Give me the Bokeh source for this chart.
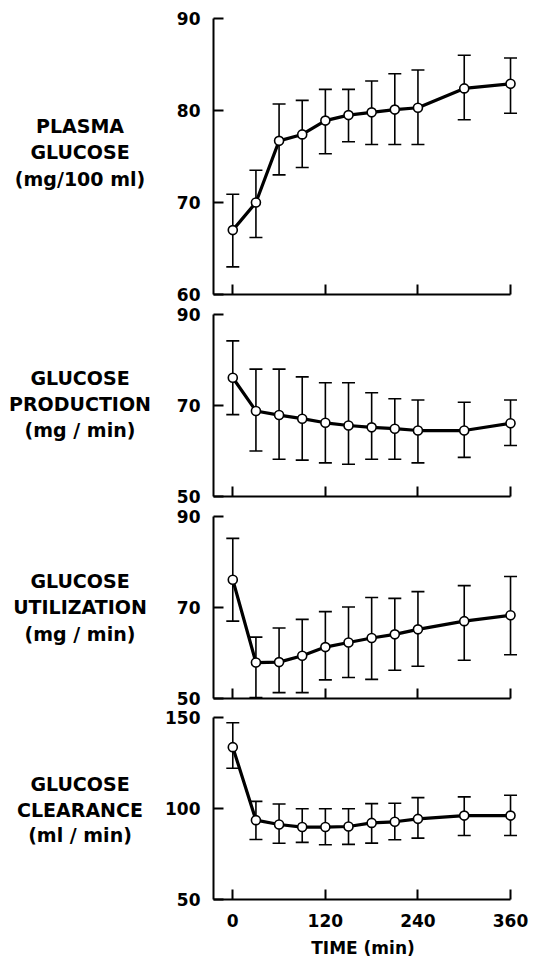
from bokeh.plotting import figure
from bokeh.layouts import column, row
from bokeh.models import Range1d, FixedTicker, Whisker, TeeHead, ColumnDataSource
from bokeh.core.properties import value
from bokeh.embed import file_html
from bokeh.resources import INLINE

# ---------------- data ----------------
times = [0, 30, 60, 90, 120, 150, 180, 210, 240, 300, 360]
x_ticks = [0, 120, 240, 360]

plasma_mean = [67.0, 70.0, 76.7, 77.4, 78.9, 79.5, 79.8, 80.1, 80.3, 82.4, 82.9]
plasma_upper = [70.9, 73.5, 80.7, 81.1, 82.3, 82.3, 83.2, 84.0, 84.4, 86.0, 85.7]
plasma_lower = [63.0, 66.2, 73.0, 73.8, 75.3, 76.6, 76.3, 76.3, 76.3, 79.0, 79.7]

prod_mean = [76.1, 68.8, 67.9, 67.1, 66.2, 65.6, 65.2, 64.9, 64.5, 64.5, 66.1]
prod_upper = [84.2, 78.0, 78.0, 76.3, 75.0, 75.0, 72.8, 71.5, 71.2, 70.7, 71.2]
prod_lower = [68.0, 60.0, 58.2, 58.0, 57.4, 57.1, 58.2, 58.2, 57.4, 58.6, 61.2]

util_mean = [76.1, 57.9, 58.0, 59.4, 61.3, 62.3, 63.3, 64.1, 65.2, 67.0, 68.3]
util_upper = [85.2, 63.5, 65.5, 67.4, 69.1, 70.1, 72.2, 72.0, 73.5, 74.8, 76.8]
util_lower = [67.0, 50.2, 51.3, 51.3, 54.1, 54.6, 54.2, 56.2, 57.1, 58.4, 59.6]

clear_mean = [133.7, 93.6, 91.2, 89.8, 89.8, 90.1, 92.1, 92.7, 94.3, 96.1, 96.1]
clear_upper = [147.1, 103.9, 102.5, 99.9, 99.9, 99.9, 102.7, 102.9, 106.0, 106.4, 107.3]
clear_lower = [122.1, 83.0, 80.9, 81.4, 80.1, 80.3, 81.0, 82.8, 83.7, 85.2, 85.2]

plasma_ticks = [60, 70, 80, 90]
prod_ticks = [50, 70, 90]
util_ticks = [50, 70, 90]
clear_ticks = [50, 100, 150]

plasma_title = ["PLASMA", "GLUCOSE", "(mg/100 ml)"]
prod_title = ["GLUCOSE", "PRODUCTION", "(mg / min)"]
util_title = ["GLUCOSE", "UTILIZATION", "(mg / min)"]
clear_title = ["GLUCOSE", "CLEARANCE", "(ml / min)"]
x_title = "TIME (min)"

# ---------------- layout ----------------
FONT = "DejaVu Sans"
X0, X1 = -25.0, 383.3
FW = 315
LABEL_W = 158
TOTAL_W = 538


def blank_fig(w, h, bt=0, bb=0):
    q = figure(title=None, frame_width=w, frame_height=h,
               min_border=0, min_border_left=0, min_border_right=0,
               min_border_top=bt, min_border_bottom=bb,
               x_range=Range1d(0, w), y_range=Range1d(h, 0),
               x_axis_type=None, y_axis_type=None,
               output_backend="svg", toolbar_location=None,
               background_fill_color="white", border_fill_color="white")
    q.outline_line_color = None
    q.grid.visible = False
    return q


def make_panel(mean, upper, lower, yrange, yticks, title, title_y_ref,
               fig_top_ref, fh, bt, bb, show_x):
    lo, hi = yrange
    p = figure(title=None, frame_width=FW, frame_height=fh,
               min_border_left=55, min_border_right=TOTAL_W - LABEL_W - 55 - FW,
               min_border_top=bt, min_border_bottom=bb,
               x_range=Range1d(X0, X1), y_range=Range1d(lo, hi),
               output_backend="svg", toolbar_location=None,
               background_fill_color="white", border_fill_color="white")
    p.outline_line_color = None
    p.grid.visible = False
    if show_x:
        p.xaxis.ticker = FixedTicker(ticks=x_ticks)
    else:
        p.xaxis.ticker = FixedTicker(ticks=[], minor_ticks=x_ticks)
    p.yaxis.ticker = FixedTicker(ticks=yticks)
    p.axis.axis_line_width = 2
    p.axis.axis_line_color = "black"
    p.axis.major_tick_line_width = 2
    p.axis.major_tick_line_color = "black"
    p.axis.major_tick_in = 10
    p.axis.major_tick_out = 0
    p.xaxis.minor_tick_line_width = 2
    p.xaxis.minor_tick_line_color = "black"
    p.xaxis.minor_tick_in = 10
    p.xaxis.minor_tick_out = 0
    p.yaxis.minor_tick_line_color = None
    p.axis.major_label_text_font = FONT
    p.axis.major_label_text_font_style = "bold"
    p.axis.major_label_text_font_size = "17px"
    p.axis.major_label_text_color = "black"
    p.xaxis.bounds = (X0, 360)
    p.yaxis.major_label_standoff = 13
    p.xaxis.major_label_standoff = 14

    src = ColumnDataSource(dict(t=times, m=mean, u=upper, l=lower))
    w = Whisker(base="t", upper="u", lower="l", source=src, dimension="height",
                line_width=1.6, line_color="black",
                upper_head=TeeHead(size=13, line_width=1.6, line_color="black"),
                lower_head=TeeHead(size=13, line_width=1.6, line_color="black"))
    p.add_layout(w)
    p.line("t", "m", source=src, line_width=3.2, line_color="black", line_join="round")
    p.scatter("t", "m", source=src, marker="circle", size=9, fill_color="white",
              line_color="black", line_width=1.6)

    # side label panel, sharing the frame geometry of the plot
    lab = blank_fig(LABEL_W, fh, bt, bb)
    frame_top = fig_top_ref + bt
    lab.text(x=[79.5] * len(title), y=[y - frame_top for y in title_y_ref], text=title,
             text_font=value(FONT), text_font_style="bold", text_font_size="19px",
             text_align="center", text_baseline="middle", text_color="black")
    return row(lab, p, spacing=0)


r1 = make_panel(plasma_mean, plasma_upper, plasma_lower, (60, 90), plasma_ticks,
                plasma_title, [125, 151.5, 178.5], 0, 276, 18, 10, False)
r2 = make_panel(prod_mean, prod_upper, prod_lower, (50, 90), prod_ticks,
                prod_title, [377.5, 403.3, 429.5], 304, 182, 10, 10, False)
r3 = make_panel(util_mean, util_upper, util_lower, (50, 90), util_ticks,
                util_title, [580, 606, 633], 506, 182, 10, 10, False)
r4 = make_panel(clear_mean, clear_upper, clear_lower, (50, 150), clear_ticks,
                clear_title, [783, 809, 834.5], 708, 182, 9, 36, True)

BOTTOM_H = 22
bottom = blank_fig(TOTAL_W, BOTTOM_H)
bottom.text(x=[362.5], y=[12.5], text=[x_title],
            text_font=value(FONT), text_font_style="bold", text_font_size="17px",
            text_align="center", text_baseline="middle", text_color="black")

layout = column(r1, r2, r3, r4, bottom, spacing=0)
open("out.html", "w").write(file_html(layout, INLINE))
